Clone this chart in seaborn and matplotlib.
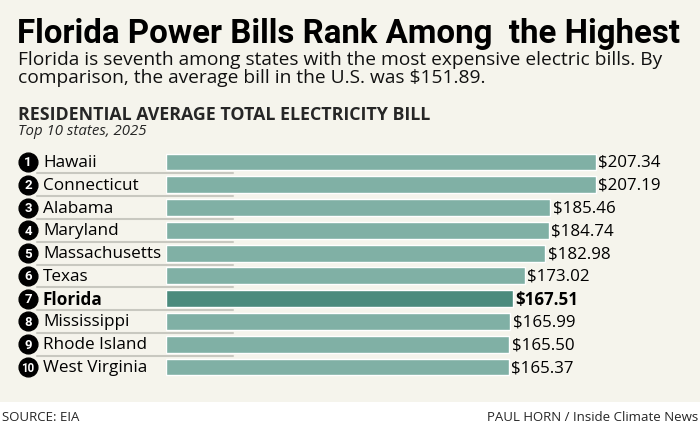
import matplotlib
matplotlib.use("Agg")
import matplotlib.pyplot as plt
import matplotlib.transforms as mtransforms
import seaborn as sns
import pandas as pd

states = ["Hawaii", "Connecticut", "Alabama", "Maryland", "Massachusetts",
          "Texas", "Florida", "Mississippi", "Rhode Island", "West Virginia"]
bills = [207.34, 207.19, 185.46, 184.74, 182.98, 173.02, 167.51, 165.99, 165.50, 165.37]
ranks = [str(i) for i in range(1, 11)]
highlight = "Florida"

title = "Florida Power Bills Rank Among  the Highest"
subtitle1 = "Florida is seventh among states with the most expensive electric bills. By"
subtitle2 = "comparison, the average bill in the U.S. was $151.89."
header = "RESIDENTIAL AVERAGE TOTAL ELECTRICITY BILL"
subheader = "Top 10 states, 2025"
source = "SOURCE: EIA"
credit = "PAUL HORN / Inside Climate News"

BG = "#f5f4ec"
BAR = "#80b0a5"
BAR_HL = "#4b8b7d"
W, H = 700, 427

sns.set_theme(style="white")
plt.rcParams["font.family"] = ["Open Sans", "DejaVu Sans"]

fig = plt.figure(figsize=(7, 4.27), dpi=100)
fig.patch.set_facecolor("white")

def px(x, y):
    return x / W, 1 - y / H

# cream background panel
bgax = fig.add_axes([0, 1 - 403 / H, 1, 403 / H])
bgax.set_facecolor(BG)
bgax.set_xticks([]); bgax.set_yticks([])
for s in bgax.spines.values():
    s.set_visible(False)
bgax.set_zorder(0)

left = 166 / W
scale = 2.073  # px per dollar
xmax = (W - 166) / scale
top_px = 163 - 11.4
bot_px = 368 + 11.4
ax = fig.add_axes([left, 1 - bot_px / H, 1 - left, (bot_px - top_px) / H])
ax.set_zorder(1)
ax.patch.set_alpha(0)

df = pd.DataFrame({"state": states, "bill": bills})
palette = {s: (BAR_HL if s == highlight else BAR) for s in states}
sns.barplot(data=df, y="state", x="bill", hue="state", palette=palette,
            order=states, width=0.74, ax=ax, legend=False, saturation=1)
ax.set_xlim(0, xmax)
ax.set_ylim(len(states) - 0.5, -0.5)
ax.set_xticks([]); ax.set_yticks([])
ax.set_xlabel(""); ax.set_ylabel("")
for s in ax.spines.values():
    s.set_visible(False)

trans = mtransforms.blended_transform_factory(fig.transFigure, ax.transData)

for i, (st, v, r) in enumerate(zip(states, bills, ranks)):
    bold = st == highlight
    ax.text(v + 1.2, i, f"${v:.2f}", va="center", ha="left", fontsize=12.2,
            fontweight="bold" if bold else "normal", color="black")
    ax.plot([28 / W], [i], marker="o", markersize=13.5, color="black",
            transform=trans, clip_on=False)
    ax.text(28 / W, i, r, transform=trans, ha="center", va="center",
            fontsize=9.5 if len(r) == 1 else 8.3, fontweight="bold", color="white",
            family=["Roboto", "DejaVu Sans"])
    ax.text(43 / W, i, st, transform=trans, ha="left", va="center",
            fontsize=12.3, fontweight="bold" if bold else "normal", color="black")
    if i < len(states) - 1:
        ax.plot([37 / W, 233 / W], [i + 0.5, i + 0.5], color="#c8c8c0", lw=1.5,
                transform=trans, clip_on=False, zorder=0.5)

fig.text(*px(17, 43), title, fontsize=23.8, fontweight="bold", family=["Roboto", "DejaVu Sans"],
         va="baseline", ha="left", color="black")
fig.text(*px(18, 65), subtitle1, fontsize=13.8, va="baseline", ha="left", color="#111111")
fig.text(*px(18, 83), subtitle2, fontsize=13.8, va="baseline", ha="left", color="#111111")
fig.text(*px(18, 120), header, fontsize=12.8, fontweight="bold", va="baseline", ha="left")
fig.text(*px(18, 135), subheader, fontsize=10.8, style="italic", va="baseline", ha="left")
fig.text(*px(2, 421), source, fontsize=9.5, va="baseline", ha="left")
fig.text(*px(698, 421), credit, fontsize=9.5, va="baseline", ha="right")

fig.savefig("out.png", dpi=100, facecolor=fig.get_facecolor())
